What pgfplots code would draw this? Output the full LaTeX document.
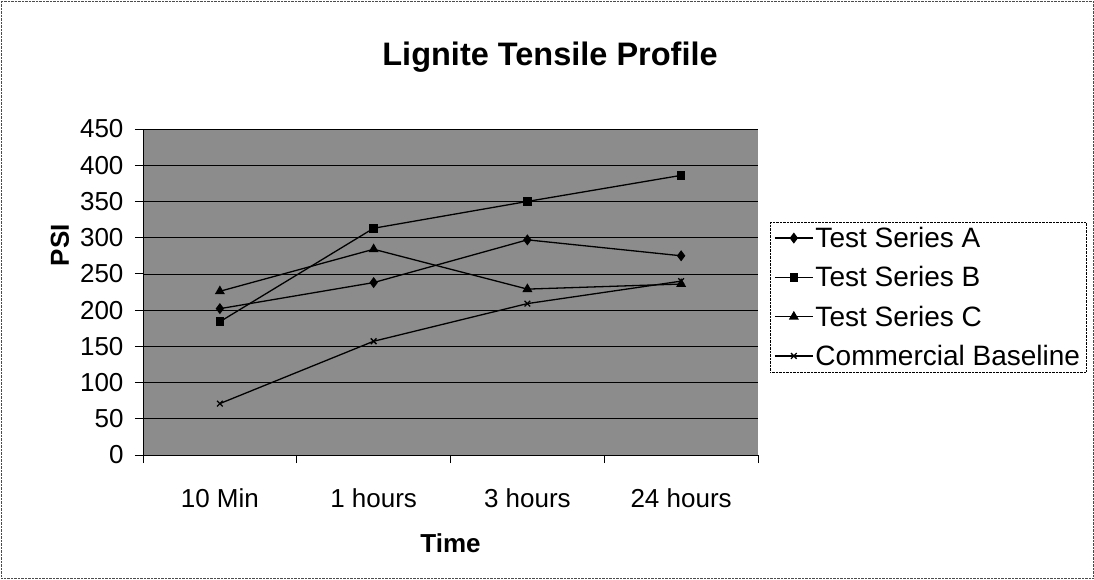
\documentclass[border=0pt]{standalone}
\usepackage{fontspec}
\setmainfont{Liberation Sans}
\usepackage{pgfplots}
\pgfplotsset{compat=1.18}
\begin{document}
\begin{tikzpicture}[x=1pt,y=1pt]
\draw[densely dotted, black!70] (1,1) rectangle (1093,578);
\node[font=\fontsize{32.5}{36}\selectfont\bfseries] at (550,522) {Lignite Tensile Profile};
\begin{axis}[
  at={(143pt,124pt)}, anchor=south west,
  scale only axis, width=615pt, height=326pt,
  xmin=-0.5, xmax=3.5, ymin=0, ymax=450,
  xtick={0,1,2,3},
  xticklabels={10 Min,1 hours,3 hours,24 hours},
  minor xtick={-0.5,0.5,1.5,2.5,3.5},
  ytick={0,50,...,450},
  major x tick style={draw=none},
  tick align=outside,
  major tick length=8pt, minor tick length=8pt,
  tick style={black, line width=0.8pt},
  axis x line*=bottom, axis y line*=left,
  axis line style={-, black, line width=0.8pt},
  ymajorgrids, grid style={black, line width=0.7pt},
  axis background/.style={fill=black!45},
  /pgf/number format/assume math mode=true,
  ticklabel style={font=\fontsize{26}{30}\selectfont},
  xticklabel style={yshift=-22pt},
  yticklabel style={xshift=-8pt},
  xlabel={Time},
  xlabel style={font=\fontsize{26}{30}\selectfont\bfseries, at={(axis description cs:0.5,0)}, anchor=center, yshift=-88pt},
  ylabel={PSI},
  ylabel style={font=\fontsize{26}{30}\selectfont\bfseries, at={(axis description cs:-0.135,0.644)}, anchor=center, rotate=0},
  legend style={at={(1.0195,0.7147)}, anchor=north west, draw=black, densely dotted, fill=white,
    font=\fontsize{28}{31}\selectfont, row sep=13.5pt, inner xsep=4pt, inner ysep=3pt},
  legend cell align=left,
  legend image code/.code={\draw[solid, mark repeat=2, mark phase=2] plot coordinates {(0pt,0pt) (19pt,0pt) (38pt,0pt)};},
]
\addplot[black, line width=1.3pt, mark=diamond*, mark size=4.5pt, mark options={solid, fill=black}] coordinates {(0,202) (1,238) (2,297) (3,275)};
\addlegendentry{Test Series A}
\addplot[black, line width=1.3pt, mark=square*, mark size=3.6pt, mark options={solid, fill=black}] coordinates {(0,184) (1,313) (2,350) (3,386)};
\addlegendentry{Test Series B}
\addplot[black, line width=1.3pt, mark=triangle*, mark size=4.5pt, mark options={solid, fill=black}] coordinates {(0,226) (1,284) (2,229) (3,236)};
\addlegendentry{Test Series C}
\addplot[black, line width=1.3pt, mark=x, mark size=4pt, mark options={solid}] coordinates {(0,71) (1,157) (2,209) (3,240)};
\addlegendentry{Commercial Baseline}
\end{axis}
\pgfresetboundingbox
\path (0,0) rectangle (1094,579);
\end{tikzpicture}
\end{document}
